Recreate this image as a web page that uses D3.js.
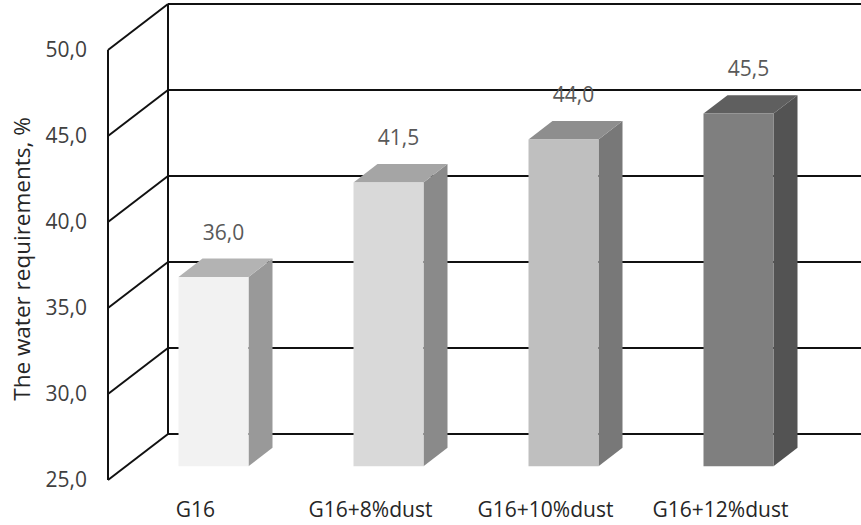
<!DOCTYPE html>
<html>
<head>
<meta charset="utf-8">
<script src="https://cdn.jsdelivr.net/npm/d3@7"></script>
<style>
  html, body { margin: 0; padding: 0; background: #fff; }
  svg { display: block; font-family: "Open Sans", "Segoe UI", sans-serif; }
</style>
</head>
<body>
<svg id="chart" width="861" height="525"></svg>
<script>
// Water requirement of G16 binder with increasing dust content
const categories = ["G16", "G16+8%dust", "G16+10%dust", "G16+12%dust"];
const values = [36.0, 41.5, 44.0, 45.5];
const yTicks = [25, 30, 35, 40, 45, 50];
const frontColors = ["#f2f2f2", "#d9d9d9", "#bfbfbf", "#7f7f7f"];
const topColors = ["#b3b3b3", "#a5a5a5", "#8e8e8e", "#5f5f5f"];
const sideColors = ["#999999", "#8a8a8a", "#787878", "#535353"];
const yTitle = "The water requirements, %";

const width = 861, height = 525;
const svg = d3.select("#chart");

// Front plane of the 3-D box; depth runs from 0 (front) to 1 (back wall)
const front = { left: 108, right: 808, top: 50, bottom: 480 };
const depthDX = 60, depthDY = -46;
const barDepthStart = 0.3, barDepthEnd = 0.7;

const x = d3.scaleBand()
  .domain(categories)
  .range([front.left, front.right])
  .paddingInner(0.6)
  .paddingOuter(0.3);

const y = d3.scaleLinear()
  .domain([25, 50])
  .range([front.bottom, front.top]);

// Project a (front x, front y, depth) point onto the page
const P = (px, py, d) => [px + depthDX * d, py + depthDY * d];

const fmt = v => d3.format(".1f")(v).replace(".", ",");

// Grid: back-wall horizontals, diagonals on the left side wall
const grid = svg.append("g").attr("stroke", "#111").attr("stroke-width", 2).attr("fill", "none");
yTicks.forEach(t => {
  const a = P(front.left, y(t), 0), b = P(front.left, y(t), 1);
  grid.append("line").attr("x1", a[0]).attr("y1", a[1]).attr("x2", b[0]).attr("y2", b[1]);
  grid.append("line").attr("x1", b[0]).attr("y1", b[1]).attr("x2", width).attr("y2", b[1]);
});
// Vertical edges: front axis and back-wall corner
[0, 1].forEach(d => {
  const a = P(front.left, y(25), d), b = P(front.left, y(50), d);
  grid.append("line").attr("x1", a[0]).attr("y1", a[1]).attr("x2", b[0]).attr("y2", b[1]);
});

// Tick labels on the front axis
svg.append("g").selectAll("text").data(yTicks).join("text")
  .attr("x", front.left - 21)
  .attr("y", d => y(d))
  .attr("dy", "0.35em")
  .attr("text-anchor", "end")
  .attr("fill", "#404040")
  .attr("font-size", 21)
  .text(fmt);

// Axis title
svg.append("text")
  .attr("transform", `translate(30, 259) rotate(-90)`)
  .attr("text-anchor", "middle")
  .attr("fill", "#262626")
  .attr("font-size", 22.5)
  .text(yTitle);

// 3-D bars: front, top and right faces
const bars = svg.append("g");
categories.forEach((c, i) => {
  const x0 = x(c), x1 = x(c) + x.bandwidth();
  const yb = y(25), yt = y(values[i]);
  const d0 = barDepthStart, d1 = barDepthEnd;
  const poly = pts => pts.map(p => p.join(",")).join(" ");
  const g = bars.append("g");
  g.append("polygon")
    .attr("points", poly([P(x1, yb, d0), P(x1, yb, d1), P(x1, yt, d1), P(x1, yt, d0)]))
    .attr("fill", sideColors[i]);
  g.append("polygon")
    .attr("points", poly([P(x0, yt, d0), P(x1, yt, d0), P(x1, yt, d1), P(x0, yt, d1)]))
    .attr("fill", topColors[i]);
  g.append("polygon")
    .attr("points", poly([P(x0, yb, d0), P(x1, yb, d0), P(x1, yt, d0), P(x0, yt, d0)]))
    .attr("fill", frontColors[i]);

  // Value label above the bar
  const lp = P(x(c) + x.bandwidth() / 2, yt, (d0 + d1) / 2);
  g.append("text")
    .attr("x", lp[0] - 2)
    .attr("y", lp[1] - 28)
    .attr("text-anchor", "middle")
    .attr("fill", "#595959")
    .attr("font-size", 21)
    .text(fmt(values[i]));
});

// Category labels along the front floor edge
svg.append("g").selectAll("text").data(categories).join("text")
  .attr("x", d => x(d) + x.bandwidth() / 2)
  .attr("y", 517)
  .attr("text-anchor", "middle")
  .attr("fill", "#262626")
  .attr("font-size", 21)
  .text(d => d);
</script>
</body>
</html>
